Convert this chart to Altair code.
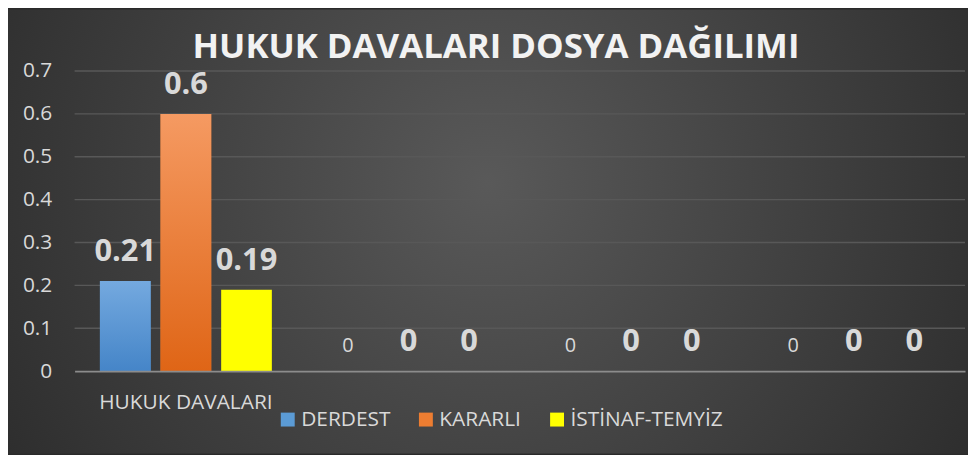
import altair as alt
import pandas as pd

# ---- data ----
categories = ["HUKUK DAVALARI", " ", "  ", "   "]
series = ["DERDEST", "KARARLI", "İSTİNAF-TEMYİZ"]
derdest = [0.21, 0, 0, 0]
kararli = [0.6, 0, 0, 0]
istinaf = [0.19, 0, 0, 0]
y_ticks = [0.1, 0.2, 0.3, 0.4, 0.5, 0.6, 0.7]
title_text = "HUKUK DAVALARI DOSYA DAĞILIMI"

rows = []
for s, vals in zip(series, [derdest, kararli, istinaf]):
    for c, v in zip(categories, vals):
        rows.append({"kategori": c, "seri": s, "deger": v})
df = pd.DataFrame(rows)
grid_df = pd.DataFrame({"deger": y_ticks})

FONT = "Open Sans"
TXT = "#d9d9d9"
W, H = 896, 302
PAD = {"left": 67, "top": 62, "right": 3, "bottom": 83}

x_enc = alt.X("kategori:N", sort=categories,
              scale=alt.Scale(paddingInner=0, paddingOuter=0),
              axis=alt.Axis(title=None, labelAngle=0, ticks=False, domain=True,
                            domainColor="#8c8c8c", domainWidth=2,
                            labelFont=FONT, labelFontSize=21, labelColor=TXT,
                            labelPadding=21, zindex=1, labelLimit=400))
xo_enc = alt.XOffset("seri:N", sort=series,
                     scale=alt.Scale(paddingInner=0.164, paddingOuter=0.418))
y_scale = alt.Scale(domain=[0, 0.7], nice=False, zero=True)
y_axis = alt.Axis(title=None, values=[0] + y_ticks, format=".1~f",
                  ticks=False, domain=False, grid=False,
                  labelFont=FONT, labelFontSize=21, labelColor=TXT,
                  labelPadding=23, zindex=1)
y_enc = alt.Y("deger:Q", scale=y_scale, axis=y_axis)

bg = alt.Chart(alt.Data(values=[{"k": 1}])).mark_rect(
    fill={"gradient": "radial", "x1": 0.5, "y1": 0.45, "r1": 0,
          "x2": 0.5, "y2": 0.45, "r2": 0.68,
          "stops": [{"offset": 0, "color": "#595959"},
                    {"offset": 1, "color": "#262626"}]}
).encode(x=alt.value(-PAD["left"]), x2=alt.value(W + PAD["right"]),
         y=alt.value(-PAD["top"]), y2=alt.value(H + PAD["bottom"]))

grid = alt.Chart(grid_df).mark_rule(color="#585858", strokeWidth=1.5).encode(y=y_enc)

bars = alt.Chart(df).mark_bar().encode(
    x=x_enc, xOffset=xo_enc, y=y_enc,
    color=alt.Color("seri:N", sort=series,
                    scale=alt.Scale(domain=series, range=["#5b9bd5", "#ed7d31", "#ffff00"]),
                    legend=alt.Legend(title=None, orient="none", legendX=204, legendY=340,
                                      direction="horizontal", columns=3,
                                      symbolType="square", symbolSize=196,
                                      symbolStrokeWidth=0, symbolOpacity=1,
                                      labelFont=FONT, labelFontSize=21, labelColor=TXT,
                                      labelOffset=3, columnPadding=25, labelLimit=300,
                                      zindex=1)))

def grad(top, bottom):
    return {"gradient": "linear", "x1": 0, "y1": 0, "x2": 0, "y2": 1,
            "stops": [{"offset": 0, "color": top}, {"offset": 1, "color": bottom}]}

blue = alt.Chart(df).transform_filter(alt.datum.seri == series[0]).mark_bar(
    fill=grad("#74a9df", "#4585c8")).encode(x=x_enc, xOffset=xo_enc, y=y_enc)
orange = alt.Chart(df).transform_filter(alt.datum.seri == series[1]).mark_bar(
    fill=grad("#f59a62", "#df6516")).encode(x=x_enc, xOffset=xo_enc, y=y_enc)

big = alt.Chart(df).transform_filter(
    ~((alt.datum.seri == series[0]) & (alt.datum.kategori != categories[0]))
).mark_text(font=FONT, fontSize=31, fontWeight="bold", color=TXT,
            baseline="alphabetic", dy=-20).encode(
    x=x_enc, xOffset=xo_enc, y=y_enc, text=alt.Text("deger:Q", format=".2~f"))

small = alt.Chart(df).transform_filter(
    (alt.datum.seri == series[0]) & (alt.datum.kategori != categories[0])
).mark_text(font=FONT, fontSize=20, color=TXT,
            baseline="alphabetic", dy=-19).encode(
    x=x_enc, xOffset=xo_enc, y=y_enc, text=alt.Text("deger:Q", format=".2~f"))

chart = alt.layer(bg, grid, bars, blue, orange, big, small).properties(
    width=W, height=H,
    autosize=alt.AutoSizeParams(type="none"),
    padding=PAD,
    background="#2a2a2a",
    title=alt.TitleParams(title_text, font=FONT, fontSize=35, fontWeight="bold",
                          color="#f2f2f2", anchor="middle", frame="group", dx=-24,
                          dy=98, baseline="alphabetic", offset=14, zindex=1),
).configure_view(stroke=None)

chart.save("out.html", embed_options={"renderer": "svg", "actions": False})
